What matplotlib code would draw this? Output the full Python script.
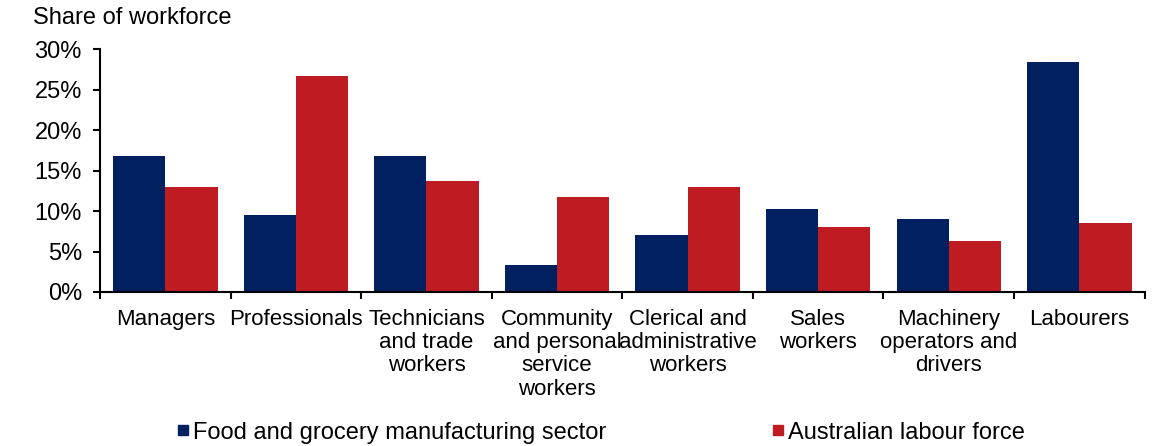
import numpy as np
import matplotlib.pyplot as plt
from matplotlib.lines import Line2D

# =========================
# DATA
# =========================
categories = [
    "Managers",
    "Professionals",
    "Technicians\nand trade\nworkers",
    "Community\nand personal\nservice\nworkers",
    "Clerical and\nadministrative\nworkers",
    "Sales\nworkers",
    "Machinery\noperators and\ndrivers",
    "Labourers",
]
food_sector = [16.8, 9.5, 16.8, 3.3, 7.0, 10.2, 9.0, 28.4]
labour_force = [13.0, 26.7, 13.7, 11.7, 13.0, 8.0, 6.3, 8.5]

series_names = ["Food and grocery manufacturing sector", "Australian labour force"]
y_ticks = [0, 5, 10, 15, 20, 25, 30]

# =========================
# STYLE
# =========================
NAVY = "#002060"
RED = "#BE1B23"
plt.rcParams["font.family"] = ["Liberation Sans", "DejaVu Sans"]
FS = 17

fig = plt.figure(figsize=(11.68, 4.46), dpi=100)
ax = fig.add_axes([0.0856, 0.3453, 0.8944, 0.5447])

x = np.arange(len(categories))
w = 0.4

ax.bar(x - w / 2, food_sector, width=w, color=NAVY, edgecolor="none")
ax.bar(x + w / 2, labour_force, width=w, color=RED, edgecolor="none")

ax.set_xlim(-0.5, len(categories) - 0.5)
ax.set_ylim(0, 30)

ax.set_yticks(y_ticks)
ax.set_yticklabels([f"{v}%" for v in y_ticks], fontsize=FS)

# boundary ticks (major) and labels at centres (minor)
ax.set_xticks(np.arange(len(categories) + 1) - 0.5)
ax.set_xticklabels([])
ax.set_xticks(x, minor=True)
ax.set_xticklabels(categories, minor=True, fontsize=16, linespacing=1.15,
                   va="top", ha="center")
ax.tick_params(axis="x", which="major", direction="out", length=5, width=1.5)
ax.tick_params(axis="x", which="minor", length=0, pad=12)
ax.tick_params(axis="y", direction="out", length=5, width=1.5, pad=8)

for s in ["top", "right"]:
    ax.spines[s].set_visible(False)
ax.spines["left"].set_linewidth(1.5)
ax.spines["bottom"].set_linewidth(1.5)

fig.text(0.028, 0.96, "Share of workforce", fontsize=FS, va="center", ha="left")

handles = [
    Line2D([], [], marker="s", linestyle="none", color=NAVY, markersize=7.5),
    Line2D([], [], marker="s", linestyle="none", color=RED, markersize=7.5),
]
fig.legend(handles, series_names, loc="center", bbox_to_anchor=(0.514, 0.03),
           ncol=2, frameon=False, fontsize=FS, handletextpad=0.1,
           columnspacing=7.0, handlelength=0.6)

fig.savefig("out.png", dpi=100)
